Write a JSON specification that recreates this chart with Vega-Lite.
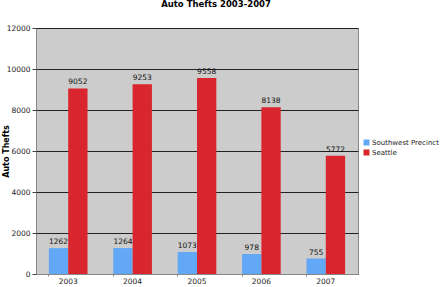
{
  "$schema": "https://vega.github.io/schema/vega-lite/v6.json",
  "autosize": "none",
  "width": 322,
  "height": 246,
  "padding": {"left": 36, "top": 28, "right": 82, "bottom": 13},
  "background": "white",
  "title": {"text": "Auto Thefts 2003-2007", "font": "DejaVu Sans", "fontSize": 8.5, "fontWeight": "bold", "color": "#000", "offset": 16, "anchor": "middle", "frame": "group", "dx": 19},
  "config": {
    "view": {"fill": "#cccccc", "stroke": "#888888", "strokeWidth": 1},
    "font": "DejaVu Sans",
    "axis": {"labelFont": "DejaVu Sans", "labelFontSize": 7.5, "labelColor": "#222", "titleFont": "DejaVu Sans"}
  },
  "data": {"values": [
    {"year": "2003", "series": "Southwest Precinct", "value": 1262},
    {"year": "2003", "series": "Seattle", "value": 9052},
    {"year": "2004", "series": "Southwest Precinct", "value": 1264},
    {"year": "2004", "series": "Seattle", "value": 9253},
    {"year": "2005", "series": "Southwest Precinct", "value": 1073},
    {"year": "2005", "series": "Seattle", "value": 9558},
    {"year": "2006", "series": "Southwest Precinct", "value": 978},
    {"year": "2006", "series": "Seattle", "value": 8138},
    {"year": "2007", "series": "Southwest Precinct", "value": 755},
    {"year": "2007", "series": "Seattle", "value": 5772}
  ]},
  "encoding": {
    "x": {"field": "year", "type": "nominal", "scale": {"paddingInner": 0.4, "paddingOuter": 0.2},
      "axis": {"title": null, "labelAngle": 0, "domainColor": "#888", "tickColor": "#888", "tickSize": 2, "bandPosition": 0, "labelPadding": 1}},
    "xOffset": {"field": "series", "type": "nominal", "sort": ["Southwest Precinct", "Seattle"]},
    "y": {"field": "value", "type": "quantitative", "scale": {"domain": [0, 12000]},
      "axis": {"title": "Auto Thefts", "format": "d", "titleFontSize": 8, "titleFontWeight": "bold", "titleColor": "#000", "titleX": -26, "titleY": 123, "titleAlign": "center", "titleBaseline": "bottom", "values": [0, 2000, 4000, 6000, 8000, 10000, 12000], "gridColor": "#222", "gridWidth": 1, "grid": true, "domain": false, "tickColor": "#444", "tickSize": 4, "labelPadding": 2}}
  },
  "layer": [
    {
      "mark": {"type": "bar"},
      "encoding": {
        "color": {"field": "series", "type": "nominal", "sort": ["Southwest Precinct", "Seattle"],
          "scale": {"domain": ["Southwest Precinct", "Seattle"], "range": ["#62a8f7", "#d9262e"]},
          "legend": {"title": null, "orient": "none", "legendX": 327, "legendY": 111, "symbolType": "square", "symbolSize": 36, "symbolStrokeWidth": 0, "labelFont": "DejaVu Sans", "labelFontSize": 7, "labelColor": "#222", "rowPadding": 2, "labelOffset": 2, "labelLimit": 120}}
      }
    },
    {
      "mark": {"type": "text", "dy": -6, "fontSize": 7.5, "color": "#111"},
      "encoding": {"text": {"field": "value", "type": "quantitative"}}
    }
  ]
}
